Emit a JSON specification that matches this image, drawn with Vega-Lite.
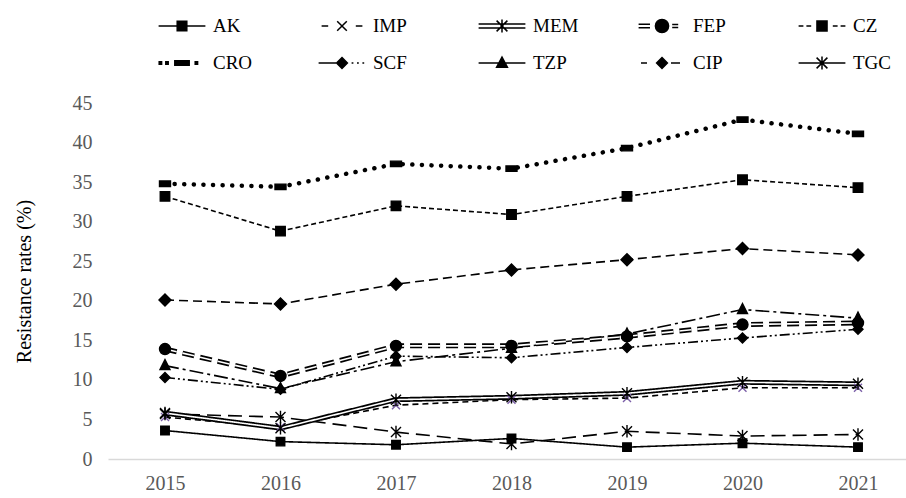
{
  "$schema": "https://vega.github.io/schema/vega-lite/v6.json",
  "width": 798,
  "height": 356,
  "autosize": {"type": "none"},
  "padding": {"left": 108, "top": 103, "right": 0, "bottom": 39},
  "background": "white",
  "config": {"view": {"stroke": null}, "font": "Times New Roman, Liberation Serif, serif"},
  "data": {
    "values": [
      {"series": "AK", "year": 2015, "value": 3.6}, {"series": "AK", "year": 2016, "value": 2.2}, {"series": "AK", "year": 2017, "value": 1.8}, {"series": "AK", "year": 2018, "value": 2.6}, {"series": "AK", "year": 2019, "value": 1.5}, {"series": "AK", "year": 2020, "value": 2.0}, {"series": "AK", "year": 2021, "value": 1.5},
      {"series": "IMP", "year": 2015, "value": 5.3}, {"series": "IMP", "year": 2016, "value": 4.0}, {"series": "IMP", "year": 2017, "value": 6.8}, {"series": "IMP", "year": 2018, "value": 7.5}, {"series": "IMP", "year": 2019, "value": 7.7}, {"series": "IMP", "year": 2020, "value": 9.0}, {"series": "IMP", "year": 2021, "value": 9.0},
      {"series": "MEM", "year": 2015, "value": 5.8}, {"series": "MEM", "year": 2016, "value": 3.9}, {"series": "MEM", "year": 2017, "value": 7.5}, {"series": "MEM", "year": 2018, "value": 7.8}, {"series": "MEM", "year": 2019, "value": 8.3}, {"series": "MEM", "year": 2020, "value": 9.7}, {"series": "MEM", "year": 2021, "value": 9.5},
      {"series": "FEP", "year": 2015, "value": 13.9}, {"series": "FEP", "year": 2016, "value": 10.5}, {"series": "FEP", "year": 2017, "value": 14.3}, {"series": "FEP", "year": 2018, "value": 14.3}, {"series": "FEP", "year": 2019, "value": 15.5}, {"series": "FEP", "year": 2020, "value": 17.0}, {"series": "FEP", "year": 2021, "value": 17.2},
      {"series": "CZ", "year": 2015, "value": 33.2}, {"series": "CZ", "year": 2016, "value": 28.8}, {"series": "CZ", "year": 2017, "value": 32.0}, {"series": "CZ", "year": 2018, "value": 30.9}, {"series": "CZ", "year": 2019, "value": 33.2}, {"series": "CZ", "year": 2020, "value": 35.3}, {"series": "CZ", "year": 2021, "value": 34.3},
      {"series": "CRO", "year": 2015, "value": 34.8}, {"series": "CRO", "year": 2016, "value": 34.4}, {"series": "CRO", "year": 2017, "value": 37.3}, {"series": "CRO", "year": 2018, "value": 36.7}, {"series": "CRO", "year": 2019, "value": 39.3}, {"series": "CRO", "year": 2020, "value": 42.9}, {"series": "CRO", "year": 2021, "value": 41.1},
      {"series": "SCF", "year": 2015, "value": 10.3}, {"series": "SCF", "year": 2016, "value": 8.8}, {"series": "SCF", "year": 2017, "value": 13.0}, {"series": "SCF", "year": 2018, "value": 12.8}, {"series": "SCF", "year": 2019, "value": 14.1}, {"series": "SCF", "year": 2020, "value": 15.3}, {"series": "SCF", "year": 2021, "value": 16.4},
      {"series": "TZP", "year": 2015, "value": 11.8}, {"series": "TZP", "year": 2016, "value": 8.9}, {"series": "TZP", "year": 2017, "value": 12.3}, {"series": "TZP", "year": 2018, "value": 14.0}, {"series": "TZP", "year": 2019, "value": 15.8}, {"series": "TZP", "year": 2020, "value": 18.9}, {"series": "TZP", "year": 2021, "value": 17.8},
      {"series": "CIP", "year": 2015, "value": 20.1}, {"series": "CIP", "year": 2016, "value": 19.6}, {"series": "CIP", "year": 2017, "value": 22.1}, {"series": "CIP", "year": 2018, "value": 23.9}, {"series": "CIP", "year": 2019, "value": 25.2}, {"series": "CIP", "year": 2020, "value": 26.6}, {"series": "CIP", "year": 2021, "value": 25.8},
      {"series": "TGC", "year": 2015, "value": 5.7}, {"series": "TGC", "year": 2016, "value": 5.3}, {"series": "TGC", "year": 2017, "value": 3.4}, {"series": "TGC", "year": 2018, "value": 1.9}, {"series": "TGC", "year": 2019, "value": 3.5}, {"series": "TGC", "year": 2020, "value": 2.9}, {"series": "TGC", "year": 2021, "value": 3.1}
    ]
  },
  "encoding": {
    "x": {
      "field": "year", "type": "quantitative",
      "scale": {"domain": [2014.5065, 2021.4156], "nice": false, "zero": false},
      "axis": {"values": [2015, 2016, 2017, 2018, 2019, 2020, 2021], "format": "d", "title": null, "grid": false, "ticks": false, "domainColor": "#d9d9d9", "domainWidth": 1.5, "labelFont": "Times New Roman, Liberation Serif, serif", "labelFontSize": 20, "labelColor": "#595959", "labelPadding": 14, "labelFlush": false}
    },
    "y": {
      "field": "value", "type": "quantitative",
      "scale": {"domain": [0, 45], "nice": false},
      "axis": {"values": [0, 5, 10, 15, 20, 25, 30, 35, 40, 45], "title": "Resistance rates (%)", "grid": false, "domain": false, "ticks": false, "labelFont": "Times New Roman, Liberation Serif, serif", "labelFontSize": 20, "labelColor": "#595959", "labelPadding": 16, "titleFont": "Times New Roman, Liberation Serif, serif", "titleFontSize": 20, "titleFontWeight": "normal", "titleColor": "black", "titlePadding": 38}
    }
  },
  "layer": [
    {
      "transform": [{"filter": "datum.series != 'CRO'"}],
      "mark": {"type": "line", "color": "black", "strokeCap": "butt"},
      "encoding": {
        "strokeDash": {"field": "series", "type": "nominal", "legend": null,
          "scale": {"domain": ["AK", "IMP", "MEM", "FEP", "CZ", "SCF", "TZP", "CIP", "TGC"],
                    "range": [[1, 0], [6, 4], [1, 0], [12, 6], [5, 3], [10, 3, 2, 3, 2, 3], [14, 4, 3, 4], [9, 5], [14, 7]]}},
        "strokeWidth": {"condition": {"test": "datum.series == 'MEM' || datum.series == 'FEP'", "value": 5}, "value": 1.6}
      }
    },
    {
      "transform": [{"filter": "datum.series == 'MEM' || datum.series == 'FEP'"}],
      "mark": {"type": "line", "color": "white", "strokeWidth": 1.6, "strokeCap": "butt"},
      "encoding": {
        "strokeDash": {"field": "series", "type": "nominal", "legend": null,
          "scale": {"domain": ["AK", "IMP", "MEM", "FEP", "CZ", "SCF", "TZP", "CIP", "TGC"],
                    "range": [[1, 0], [6, 4], [1, 0], [12, 6], [5, 3], [10, 3, 2, 3, 2, 3], [14, 4, 3, 4], [9, 5], [14, 7]]}}
      }
    },
    {
      "transform": [{"filter": "datum.series == 'CRO'"}],
      "mark": {"type": "line", "color": "black", "strokeWidth": 4.5, "strokeDash": [0.1, 9.5], "strokeCap": "round"},
      "encoding": {}
    },
    {
      "mark": {"type": "point", "filled": true, "fill": "black", "strokeWidth": 1.4, "opacity": 1, "size": 100},
      "encoding": {
        "shape": {"field": "series", "type": "nominal", "legend": null,
          "scale": {"domain": ["AK", "IMP", "MEM", "FEP", "CZ", "CRO", "SCF", "TZP", "CIP", "TGC"],
            "range": [
              "M-0.85,-0.85H0.85V0.85H-0.85Z",
              "M-0.8,-0.8L0.8,0.8M-0.8,0.8L0.8,-0.8",
              "M-1,-1L1,1M-1,1L1,-1M0,-1.25V1.25",
              "M-1.1,0A1.1,1.1,0,1,0,1.1,0A1.1,1.1,0,1,0,-1.1,0Z",
              "M-0.95,-0.95H0.95V0.95H-0.95Z",
              "M-1.1,-0.55H1.1V0.55H-1.1Z",
              "M0,-1L1,0L0,1L-1,0Z",
              "M0,-1.2L1,0.8H-1Z",
              "M0,-1.2L1.2,0L0,1.2L-1.2,0Z",
              "M-1,-1L1,1M-1,1L1,-1M0,-1.25V1.25"
            ]}},
        "stroke": {"condition": {"test": "datum.series == 'IMP'", "value": "#7b5fa8"}, "value": "black"}
      }
    },
    {
      "transform": [{"filter": "datum.year < 0"}],
      "mark": {"type": "point", "filled": true, "fill": "black", "stroke": "black", "strokeWidth": 1.5, "opacity": 1},
      "encoding": {
        "shape": {"field": "series", "type": "nominal",
          "scale": {"domain": ["AK", "IMP", "MEM", "FEP", "CZ", "CRO", "SCF", "TZP", "CIP", "TGC"],
            "range": [
              "M-1.95,0H1.95M-0.4,-0.4H0.4V0.4H-0.4Z",
              "M-1.7,0H-1.15M1.15,0H1.7M-0.4,-0.4L0.4,0.4M-0.4,0.4L0.4,-0.4",
              "M-1.95,-0.17H1.95M-1.95,0.17H1.95M-0.45,-0.45L0.45,0.45M-0.45,0.45L0.45,-0.45M0,-0.55V0.55",
              "M-1.95,-0.15H-1.0M-1.95,0.15H-1.0M0.85,-0.12H1.35M0.85,0.12H1.35M-0.55,0A0.55,0.55,0,1,0,0.55,0A0.55,0.55,0,1,0,-0.55,0Z",
              "M-1.95,0H-1.55M-1.3,0H-0.9M0.9,0H1.3M1.55,0H1.95M-0.42,-0.42H0.42V0.42H-0.42Z",
              "M-1.9,-0.1h0.2v0.2h-0.2ZM-1.35,-0.1h0.2v0.2h-0.2ZM-0.6,-0.18H0.6V0.18H-0.6ZM1.1,-0.1h0.2v0.2h-0.2Z",
              "M-1.95,0H-0.5M0.8,0H0.95M1.25,0H1.4M1.7,0H1.85M0,-0.45L0.45,0L0,0.45L-0.45,0Z",
              "M-1.95,0H1.95M0,-0.5L0.45,0.35H-0.45Z",
              "M-1.75,0H-1.25M0.75,0H1.5M0,-0.45L0.45,0L0,0.45L-0.45,0Z",
              "M-1.95,0H1.95M-0.45,-0.45L0.45,0.45M-0.45,0.45L0.45,-0.45M0,-0.55V0.55"
            ]},
          "legend": {"orient": "none", "legendX": 50, "legendY": -90, "direction": "horizontal", "columns": 5, "title": null,
            "gridAlign": "all",
            "symbolSize": 576, "symbolOffset": 11, "labelOffset": 18, "labelFont": "Times New Roman, Liberation Serif, serif", "labelFontSize": 19, "labelColor": "black",
            "columnPadding": 56, "rowPadding": 14,
            "encode": {"symbols": {"update": {
              "fill": {"value": "black"},
              "stroke": {"signal": "datum.value === 'IMP' ? '#7b5fa8' : 'black'"},
              "strokeWidth": {"value": 1.5},
              "opacity": {"value": 1}
            }}}}
        }
      }
    }
  ],
  "resolve": {"scale": {"shape": "independent"}}
}
